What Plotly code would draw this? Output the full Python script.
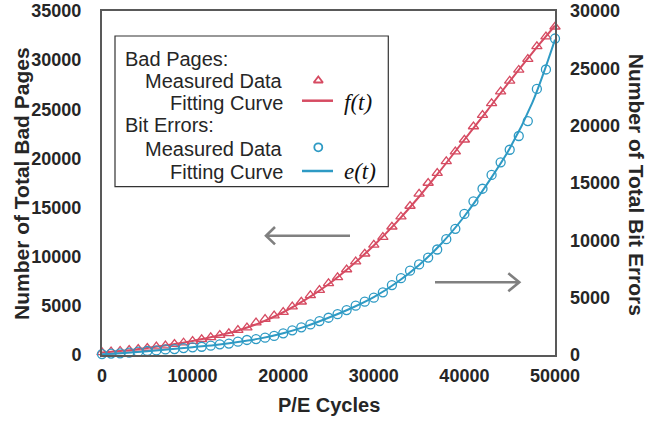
import plotly.graph_objects as go

# ---------------- data ----------------
pe_cycles = [0, 1000, 2000, 3000, 4000, 5000, 6000, 7000, 8000, 9000,
             10000, 11000, 12000, 13000, 14000, 15000, 16000, 17000, 18000, 19000,
             20000, 21000, 22000, 23000, 24000, 25000, 26000, 27000, 28000, 29000,
             30000, 31000, 32000, 33000, 34000, 35000, 36000, 37000, 38000, 39000,
             40000, 41000, 42000, 43000, 44000, 45000, 46000, 47000, 48000, 49000,
             50000]

bad_pages = [270, 340, 410, 510, 610, 710, 850, 950, 1120, 1250,
             1420, 1600, 1800, 2030, 2200, 2540, 2780, 3290, 3660, 4000,
             4370, 4920, 5420, 6070, 6610, 7290, 7900, 8700, 9500, 10300,
             11200, 12000, 13050, 14070, 15160, 16400, 17500, 18500, 19700, 20700,
             21900, 23250, 24400, 25600, 26800, 27900, 29000, 30100, 31400, 32400,
             33400]

bit_errors = [80, 120, 150, 200, 290, 350, 400, 490, 520, 600,
              670, 720, 810, 930, 1000, 1160, 1310, 1390, 1510, 1660,
              1890, 2150, 2410, 2670, 2960, 3250, 3560, 3920, 4300, 4650,
              5000, 5470, 6100, 6700, 7350, 7900, 8500, 9200, 10100, 11000,
              12300, 13400, 14500, 15700, 16800, 17900, 19100, 20400, 23200, 24900,
              27600]

fit_cycles = [0, 2500, 5000, 7500, 10000, 12500, 15000, 17500, 20000, 22500,
              25000, 27500, 30000, 32500, 35000, 37500, 40000, 42500, 45000, 47500,
              50000]
fit_bad_pages = [250, 450, 720, 1040, 1430, 1900, 2500, 3300, 4350, 5650,
                 7200, 9050, 11150, 13500, 16100, 18950, 21900, 24850, 27850, 30750,
                 33500]
fit_bit_errors = [60, 180, 330, 500, 680, 880, 1130, 1450, 1900, 2500,
                  3250, 4080, 5050, 6300, 7850, 9750, 12100, 14900, 18000, 22000,
                  27500]

x_ticks = [0, 10000, 20000, 30000, 40000, 50000]
y_left_ticks = [0, 5000, 10000, 15000, 20000, 25000, 30000, 35000]
y_right_ticks = [0, 5000, 10000, 15000, 20000, 25000, 30000]

# ---------------- style ----------------
RED = "#d64b62"
BLUE = "#2e9ac4"
GRAY = "#808080"
FRAME = "#595959"
TXT = "#262626"
SANS = "Liberation Sans"
SERIF = "Liberation Serif"

W, H = 671, 422
# plot area in page pixels (as measured on the reference)
L, R, T, B = 102, 555, 11, 355


def px(x):
    return (x - L) / (R - L)


def py(y):
    return (B - y) / (B - T)


fig = go.Figure()

fig.add_trace(go.Scatter(x=pe_cycles, y=bad_pages, mode="markers",
                         marker=dict(symbol="triangle-up-open", size=9, color=RED,
                                     line=dict(width=1.3, color=RED)),
                         showlegend=False, cliponaxis=False))
fig.add_trace(go.Scatter(x=fit_cycles, y=fit_bad_pages, mode="lines",
                         line=dict(color=RED, width=2, shape="spline", smoothing=1),
                         showlegend=False))
fig.add_trace(go.Scatter(x=pe_cycles, y=bit_errors, mode="markers", yaxis="y2",
                         marker=dict(symbol="circle-open", size=9, color=BLUE,
                                     line=dict(width=1.3, color=BLUE)),
                         showlegend=False, cliponaxis=False))
fig.add_trace(go.Scatter(x=fit_cycles, y=fit_bit_errors, mode="lines", yaxis="y2",
                         line=dict(color=BLUE, width=2, shape="spline", smoothing=1),
                         showlegend=False))

# legend sample markers on a pixel-coordinate overlay axis
fig.add_trace(go.Scatter(x=[318.3], y=[80.5], mode="markers", xaxis="x3", yaxis="y3",
                         marker=dict(symbol="triangle-up-open", size=8, color=RED,
                                     line=dict(width=1.8, color=RED)),
                         showlegend=False, cliponaxis=False, hoverinfo="skip"))
fig.add_trace(go.Scatter(x=[318.3], y=[147.3], mode="markers", xaxis="x3", yaxis="y3",
                         marker=dict(symbol="circle-open", size=8, color=BLUE,
                                     line=dict(width=1.8, color=BLUE)),
                         showlegend=False, cliponaxis=False, hoverinfo="skip"))

tickfont = dict(family=SANS, size=18, color=TXT, weight="bold")

fig.update_layout(
    width=W, height=H,
    margin=dict(l=L, r=W - R, t=T, b=H - B, pad=0, autoexpand=False),
    paper_bgcolor="white", plot_bgcolor="white",
    showlegend=False,
    xaxis=dict(range=[0, 50000], tickvals=x_ticks, ticktext=[str(v) for v in x_ticks],
               showgrid=False, zeroline=False, showline=True, linecolor=FRAME,
               linewidth=2, mirror=True, ticks="", tickfont=tickfont,
               ticklabelstandoff=3, automargin=False, ticklabeloverflow="allow"),
    yaxis=dict(range=[0, 35000], tickvals=y_left_ticks,
               ticktext=[str(v) for v in y_left_ticks],
               showgrid=False, zeroline=False, showline=True, linecolor=FRAME,
               linewidth=2, mirror=True, ticks="", tickfont=tickfont,
               ticklabelstandoff=15, automargin=False, ticklabeloverflow="allow"),
    yaxis2=dict(range=[0, 30000], tickvals=y_right_ticks,
                ticktext=[str(v) for v in y_right_ticks],
                overlaying="y", side="right", showgrid=False, zeroline=False,
                showline=False, ticks="", tickfont=tickfont, ticklabelstandoff=14,
                automargin=False, ticklabeloverflow="allow"),
    xaxis3=dict(range=[L, R], overlaying="x", anchor="y3", visible=False,
                fixedrange=True, automargin=False),
    yaxis3=dict(range=[B, T], overlaying="y", anchor="x3", visible=False,
                fixedrange=True, automargin=False),
)

ann = []


def txt(x, y, s, size=20, xa="left", angle=0, bold=False, fam=SANS, italic=False):
    ann.append(dict(x=px(x), y=py(y), xref="paper", yref="paper", text=s,
                    showarrow=False, xanchor=xa, yanchor="middle", textangle=angle,
                    font=dict(family=fam, size=size, color=TXT if fam == SANS else "#111",
                              weight="bold" if bold else "normal",
                              style="italic" if italic else "normal")))


# axis titles
txt(328.5, 405, "P/E Cycles", size=20, xa="center", bold=True)
txt(21, 184, "Number of Total Bad Pages", size=21, xa="center", angle=-90, bold=True)
txt(636.7, 184.5, "Number of Total Bit Errors", size=21, xa="center", angle=90, bold=True)

# legend texts
txt(123, 59, "Bad Pages:")
txt(285, 80.5, "Measured Data", xa="right")
txt(285, 103.3, "Fitting Curve", xa="right")
txt(123, 125.3, "Bit Errors:")
txt(285, 149.3, "Measured Data", xa="right")
txt(285, 172.3, "Fitting Curve", xa="right")
txt(341.7, 102, "f(t)", size=23, fam=SERIF, italic=True)
txt(341.7, 171, "e(t)", size=23, fam=SERIF, italic=True)

fig.update_layout(annotations=ann)

shapes = [
    # legend box
    dict(type="rect", xref="x3", yref="y3", x0=115, x1=388.3, y0=36, y1=186.7,
         line=dict(color="#333333", width=1.2), fillcolor="rgba(0,0,0,0)"),
    # legend lines
    dict(type="line", xref="x3", yref="y3", x0=302, x1=333, y0=100.7, y1=100.7,
         line=dict(color=RED, width=2.5)),
    dict(type="line", xref="x3", yref="y3", x0=302, x1=333, y0=171, y1=171,
         line=dict(color=BLUE, width=2.5)),
    # arrows
    dict(type="path", xref="x3", yref="y3",
         path="M 350,235.7 L 266,235.7 M 275,227 L 266,235.7 L 275,244.4",
         line=dict(color=GRAY, width=2.6)),
    dict(type="path", xref="x3", yref="y3",
         path="M 435,282.3 L 519.3,282.3 M 508.3,273.3 L 519.3,282.3 L 508.3,291.3",
         line=dict(color=GRAY, width=2.6)),
]
fig.update_layout(shapes=shapes)

# remove the browser's default 8px body margin so the figure sits at the page origin
fig.write_html("out.html",
               config={"displayModeBar": False},
               post_script="document.body.style.margin='0';document.body.style.overflow='hidden';")
